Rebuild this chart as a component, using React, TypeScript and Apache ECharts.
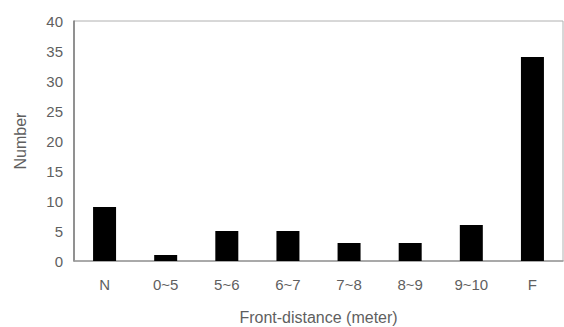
import React, { useEffect, useRef } from "react";
import * as echarts from "echarts";

const categories = ["N", "0~5", "5~6", "6~7", "7~8", "8~9", "9~10", "F"];
const counts = [9, 1, 5, 5, 3, 3, 6, 34];
const yMin = 0;
const yMax = 40;
const yStep = 5;

export default function App() {
  const ref = useRef<HTMLDivElement>(null);
  useEffect(() => {
    const chart = echarts.init(ref.current!, null, { renderer: "svg" });
    const labelColor = "#5f5f5f";
    const font = "Liberation Sans, Arial, sans-serif";
    chart.setOption({
      animation: false,
      backgroundColor: "#ffffff",
      grid: {
        left: 74,
        right: 1,
        top: 21,
        bottom: 66,
        show: true,
        outerBoundsMode: "none",
        borderColor: "#b0b0b0",
        borderWidth: 1,
        backgroundColor: "transparent",
      },
      xAxis: {
        type: "category",
        data: categories,
        name: "Front-distance (meter)",
        nameLocation: "middle",
        nameGap: 48,
        nameTextStyle: { color: labelColor, fontSize: 16, fontFamily: font },
        axisLine: { lineStyle: { color: "#9a9a9a", width: 1.5 } },
        axisTick: { show: false },
        axisLabel: { color: labelColor, fontSize: 15, fontFamily: font, margin: 16 },
      },
      yAxis: {
        type: "value",
        min: yMin,
        max: yMax,
        interval: yStep,
        name: "Number",
        nameLocation: "middle",
        nameGap: 46,
        nameRotate: 90,
        nameTextStyle: { color: labelColor, fontSize: 16, fontFamily: font },
        axisLine: { show: true, lineStyle: { color: "#7a7a7a", width: 1.5 } },
        axisTick: { show: false },
        splitLine: { show: false },
        axisLabel: { color: labelColor, fontSize: 15, fontFamily: font, margin: 11 },
      },
      series: [
        {
          type: "bar",
          data: counts,
          barWidth: 23,
          itemStyle: { color: "#000000" },
        },
      ],
    });
    return () => chart.dispose();
  }, []);
  return (
    <div
      ref={ref}
      style={{ position: "fixed", left: 0, top: 0, width: 564, height: 327 }}
    />
  );
}
